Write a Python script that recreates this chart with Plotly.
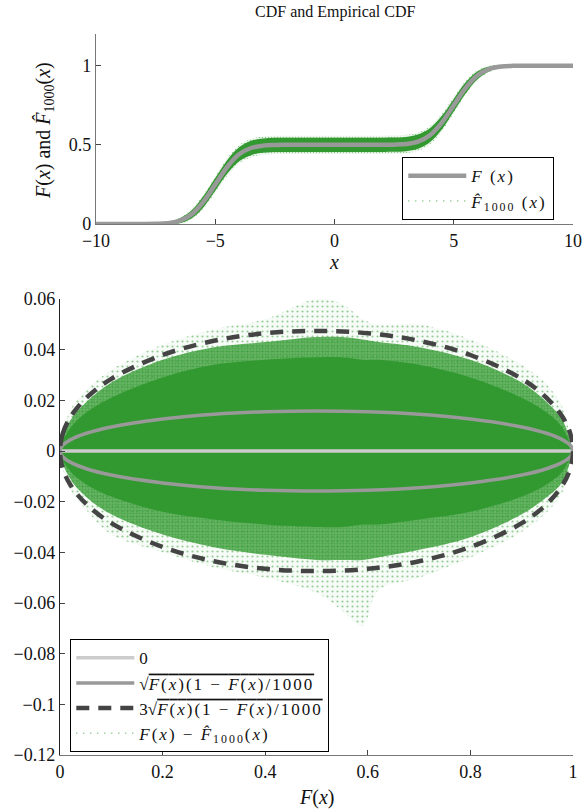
import plotly.graph_objects as go

# ---------------- data ----------------
# top panel: CDF F(x)
x_top = [-10, -9, -8, -7.5, -7, -6.5, -6, -5.5, -5, -4.5, -4, -3.5, -3, -2.5, -2, -1, 0,
         1, 2, 2.5, 3, 3.5, 4, 4.5, 5, 5.5, 6, 6.5, 7, 7.5, 8, 9, 10]
F_top = [0, 0, 0, 0.001, 0.005, 0.02, 0.06, 0.14, 0.25, 0.36, 0.44, 0.48, 0.495, 0.499, 0.5, 0.5, 0.5,
         0.5, 0.5, 0.501, 0.505, 0.52, 0.56, 0.64, 0.75, 0.86, 0.94, 0.98, 0.995, 0.999, 1, 1, 1]
# half-width of the band of empirical CDFs around F(x)
band_top = [0, 0, 0, 0.003, 0.008, 0.015, 0.025, 0.035, 0.040, 0.043, 0.044, 0.045, 0.045, 0.045, 0.045, 0.045, 0.045,
            0.045, 0.045, 0.045, 0.045, 0.045, 0.044, 0.043, 0.040, 0.035, 0.025, 0.015, 0.008, 0.003, 0, 0, 0]
band_top_out = [0, 0, 0, 0.004, 0.011, 0.02, 0.032, 0.044, 0.052, 0.056, 0.058, 0.058, 0.058, 0.058, 0.058, 0.058, 0.058,
                0.058, 0.058, 0.058, 0.058, 0.058, 0.058, 0.056, 0.052, 0.044, 0.032, 0.02, 0.011, 0.004, 0, 0, 0]

# bottom panel: cloud of F(x) - F_hat(x) versus F(x)
F_cloud = [0, 0.02, 0.05, 0.1, 0.2, 0.3, 0.4, 0.5, 0.55, 0.59, 0.62, 0.7, 0.8, 0.9, 0.95, 0.98, 1]
core_hi = [0, 0.009, 0.015, 0.021, 0.029, 0.034, 0.036, 0.037, 0.037, 0.036, 0.036, 0.034, 0.029, 0.021, 0.015, 0.009, 0]
core_lo = [0, -0.008, -0.013, -0.018, -0.024, -0.027, -0.029, -0.030, -0.030, -0.029, -0.029, -0.027, -0.024, -0.018, -0.013, -0.008, 0]
mid_hi = [0, 0.012, 0.019, 0.027, 0.036, 0.041, 0.043, 0.045, 0.045, 0.044, 0.043, 0.041, 0.036, 0.027, 0.019, 0.012, 0]
mid_lo = [0, -0.011, -0.018, -0.025, -0.033, -0.038, -0.041, -0.043, -0.043, -0.043, -0.042, -0.039, -0.034, -0.025, -0.018, -0.012, 0]
out_hi = [0, 0.016, 0.024, 0.032, 0.042, 0.048, 0.052, 0.060, 0.058, 0.052, 0.050, 0.050, 0.044, 0.034, 0.026, 0.017, 0]
out_lo = [0, -0.015, -0.023, -0.033, -0.040, -0.046, -0.050, -0.056, -0.063, -0.069, -0.055, -0.050, -0.042, -0.032, -0.024, -0.016, 0]

# standard deviation curves
F_sig = [0, 0.005, 0.02, 0.05, 0.1, 0.2, 0.3, 0.4, 0.5, 0.6, 0.7, 0.8, 0.9, 0.95, 0.98, 0.995, 1]
sig1 = [0, 0.0022, 0.0044, 0.0069, 0.0095, 0.0126, 0.0145, 0.0155, 0.0158, 0.0155, 0.0145, 0.0126, 0.0095, 0.0069, 0.0044, 0.0022, 0]
sig3 = [0, 0.0067, 0.0133, 0.0207, 0.0285, 0.0379, 0.0435, 0.0465, 0.0474, 0.0465, 0.0435, 0.0379, 0.0285, 0.0207, 0.0133, 0.0067, 0]

top_xticks = [-10, -5, 0, 5, 10]
top_yticks = [0, 0.5, 1]
bot_xticks = [0, 0.2, 0.4, 0.6, 0.8, 1]
bot_yticks = [-0.12, -0.1, -0.08, -0.06, -0.04, -0.02, 0, 0.02, 0.04, 0.06]
bot_yticklabels = ["\u22120.12", "\u22120.1", "\u22120.08", "\u22120.06", "\u22120.04", "\u22120.02", "0", "0.02", "0.04", "0.06"]

# ---------------- styling ----------------
GREEN = "#31992f"
FONT = "Liberation Serif"
W, H = 585, 812
SP = "letter-spacing:2px"


def loop(xs, hi, lo):
    return xs + xs[::-1], hi + lo[::-1]


def spaced(t):
    return "<span style='" + SP + "'>" + t + "</span>"


fig = go.Figure()

# ---- top panel ----
up_o = [f + d for f, d in zip(F_top, band_top_out)]
lo_o = [f - d for f, d in zip(F_top, band_top_out)]
lx, ly = loop(x_top, up_o, lo_o)
fig.add_trace(go.Scatter(x=lx, y=ly, mode="lines", line=dict(width=0, shape="spline"), fill="toself",
                         fillcolor="rgba(49,153,47,0.08)",
                         fillpattern=dict(shape=".", fgcolor=GREEN, size=3, solidity=0.2),
                         showlegend=False, hoverinfo="skip", xaxis="x", yaxis="y"))
up = [f + d for f, d in zip(F_top, band_top)]
lo = [f - d for f, d in zip(F_top, band_top)]
lx, ly = loop(x_top, up, lo)
fig.add_trace(go.Scatter(x=lx, y=ly, mode="lines", line=dict(width=0, shape="spline"), fill="toself",
                         fillcolor=GREEN, showlegend=False, hoverinfo="skip", xaxis="x", yaxis="y"))
fig.add_trace(go.Scatter(x=x_top, y=F_top, mode="lines", line=dict(color="#999999", width=4.5, shape="spline"),
                         name=spaced("<i>F</i> (<i>x</i>)"), xaxis="x", yaxis="y", legend="legend"))
fig.add_trace(go.Scatter(x=[None], y=[None], mode="lines", line=dict(color=GREEN, width=1, dash="1px,6px"),
                         name=spaced("<i>F\u0302</i><sub>1000</sub> (<i>x</i>)"), xaxis="x", yaxis="y",
                         legend="legend"))

# ---- bottom panel ----
lx, ly = loop(F_cloud, out_hi, out_lo)
fig.add_trace(go.Scatter(x=lx, y=ly, mode="lines", line=dict(width=0, shape="spline"), fill="toself",
                         fillcolor="rgba(49,153,47,0.04)",
                         fillpattern=dict(shape=".", fgcolor=GREEN, size=5, solidity=0.15),
                         showlegend=False, hoverinfo="skip", xaxis="x2", yaxis="y2"))
lx, ly = loop(F_cloud, mid_hi, mid_lo)
fig.add_trace(go.Scatter(x=lx, y=ly, mode="lines", line=dict(width=0, shape="spline"), fill="toself",
                         fillcolor="rgba(49,153,47,0.7)",
                         fillpattern=dict(shape=".", fgcolor=GREEN, size=3, solidity=0.5),
                         showlegend=False, hoverinfo="skip", xaxis="x2", yaxis="y2"))
lx, ly = loop(F_cloud, core_hi, core_lo)
fig.add_trace(go.Scatter(x=lx, y=ly, mode="lines", line=dict(width=0, shape="spline"), fill="toself",
                         fillcolor=GREEN, showlegend=False, hoverinfo="skip", xaxis="x2", yaxis="y2"))

fig.add_trace(go.Scatter(x=[0, 1], y=[0, 0], mode="lines", line=dict(color="#cccccc", width=3.5),
                         name="0", xaxis="x2", yaxis="y2", legend="legend2"))
ex = F_sig + F_sig[::-1][1:]
ey1 = sig1 + [-v for v in sig1[::-1]][1:]
fig.add_trace(go.Scatter(x=ex, y=ey1, mode="lines", line=dict(color="#999999", width=3.5, shape="spline"),
                         name="\u221a<span style='text-decoration:overline;" + SP + "'><i>F</i>(<i>x</i>)(1 \u2212 <i>F</i>(<i>x</i>)/1000</span>",
                         xaxis="x2", yaxis="y2", legend="legend2"))
ey3 = sig3 + [-v for v in sig3[::-1]][1:]
fig.add_trace(go.Scatter(x=ex, y=ey3, mode="lines",
                         line=dict(color="#444444", width=4.5, shape="spline", dash="13px,9px"),
                         name="3\u221a<span style='text-decoration:overline;" + SP + "'><i>F</i>(<i>x</i>)(1 \u2212 <i>F</i>(<i>x</i>)/1000</span>",
                         xaxis="x2", yaxis="y2", legend="legend2"))
fig.add_trace(go.Scatter(x=[None], y=[None], mode="lines", line=dict(color=GREEN, width=1, dash="1px,6px"),
                         name=spaced("<i>F</i>(<i>x</i>) \u2212 <i>F\u0302</i><sub>1000</sub>(<i>x</i>)"),
                         xaxis="x2", yaxis="y2", legend="legend2"))

axis_common = dict(showgrid=False, zeroline=False, showline=True, ticks="inside", ticklen=5,
                   tickfont=dict(family=FONT, size=18, color="#111"), automargin=False, mirror=False)

legend_common = dict(bgcolor="white", bordercolor="black", borderwidth=1.3,
                     font=dict(family=FONT, size=17, color="#111"), itemwidth=58,
                     tracegroupgap=0, xanchor="left", yanchor="top")

fig.update_layout(
    width=W, height=H, margin=dict(l=0, r=0, t=0, b=0),
    plot_bgcolor="white", paper_bgcolor="white",
    font=dict(family=FONT, size=18, color="#111"),
    xaxis=dict(domain=[96 / W, 573 / W], range=[-10, 10], tickvals=top_xticks,
               ticktext=["\u221210", "\u22125", "0", "5", "10"], linecolor="#777", linewidth=1.3,
               anchor="y", **axis_common),
    yaxis=dict(domain=[1 - 224 / H, 1 - 34 / H], range=[0, 1.2], tickvals=top_yticks,
               ticktext=["0", "0.5", "1"], linecolor="#777", linewidth=1.3, anchor="x", **axis_common),
    xaxis2=dict(domain=[60 / W, 573 / W], range=[0, 1], tickvals=bot_xticks,
                ticktext=["0", "0.2", "0.4", "0.6", "0.8", "1"], linecolor="#777", linewidth=1.3,
                anchor="y2", **axis_common),
    yaxis2=dict(domain=[1 - 755 / H, 1 - 299 / H], range=[-0.12, 0.06], tickvals=bot_yticks,
                ticktext=bot_yticklabels, linecolor="#222", linewidth=1.3, anchor="x2", **axis_common),
    legend=dict(x=402 / W, y=1 - 157 / H, **legend_common),
    legend2=dict(x=70 / W, y=1 - 639 / H, **legend_common),
    annotations=[
        dict(text="CDF and Empirical CDF", x=335 / W, y=1 - 12 / H, xref="paper", yref="paper",
             showarrow=False, font=dict(family=FONT, size=16, color="#111"), xanchor="center", yanchor="middle"),
        dict(text="<i>x</i>", x=334 / W, y=1 - 262 / H, xref="paper", yref="paper",
             showarrow=False, font=dict(family=FONT, size=20, color="#111"), xanchor="center", yanchor="middle"),
        dict(text="<i>F</i>(<i>x</i>)", x=316 / W, y=1 - 797 / H, xref="paper", yref="paper",
             showarrow=False, font=dict(family=FONT, size=20, color="#111"), xanchor="center", yanchor="middle"),
        dict(text="<i>F</i>(<i>x</i>) and <i>F\u0302</i><sub>1000</sub>(<i>x</i>)", x=44 / W, y=1 - 131 / H,
             xref="paper", yref="paper", textangle=-90,
             showarrow=False, font=dict(family=FONT, size=20, color="#111"), xanchor="center", yanchor="middle"),
    ],
)

fig.write_html("out.html")
